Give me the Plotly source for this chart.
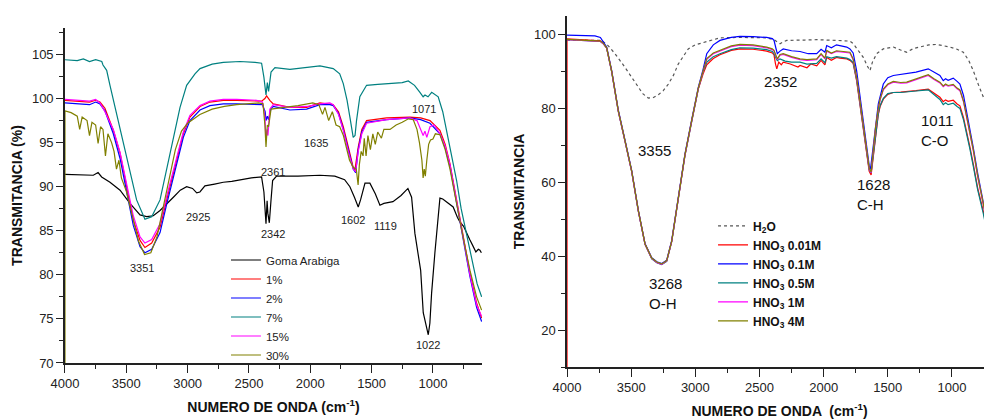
import plotly.graph_objects as go

# ---------------- LEFT PANEL DATA (wavenumber cm-1, transmittance %) ----------------
goma = [(4000, 91.4), (3850, 91.3), (3769, 91.3), (3730, 91.6), (3701, 91.1), (3633, 90.5), (3551, 89.6),
        (3470, 88.1), (3388, 86.8), (3334, 86.6), (3280, 86.7), (3225, 87.3), (3170, 88.0), (3116, 88.8),
        (3060, 89.6), (3008, 90.0), (2960, 89.8), (2926, 89.3), (2900, 89.4), (2859, 90.1), (2780, 90.3),
        (2709, 90.5), (2640, 90.6), (2573, 90.8), (2480, 91.0), (2397, 91.1), (2378, 89.4), (2361, 85.8),
        (2352, 88.4), (2346, 87.0), (2334, 85.9), (2320, 88.5), (2307, 90.7), (2275, 91.2), (2100, 91.2),
        (1921, 91.3), (1800, 91.2), (1720, 90.8), (1677, 90.0), (1640, 88.8), (1609, 87.7), (1590, 88.5),
        (1554, 90.4), (1514, 90.4), (1470, 89.2), (1432, 87.9), (1400, 88.1), (1326, 88.3), (1260, 89.0),
        (1204, 89.8), (1174, 88.8), (1147, 84.7), (1120, 82.4), (1100, 80.5), (1079, 75.7), (1050, 74.0),
        (1038, 73.2), (1025, 74.5), (1011, 77.9), (984, 82.5), (960, 86.0), (943, 88.7), (920, 88.6),
        (889, 88.3), (835, 87.7), (800, 86.5), (780, 86.0), (750, 85.5), (726, 84.7), (700, 84.0),
        (671, 83.2), (650, 82.6), (630, 82.9), (617, 82.8), (605, 82.5)]

p1 = [(4000, 99.8), (3900, 99.7), (3800, 99.6), (3750, 99.8), (3715, 99.6), (3674, 98.9), (3606, 96.4),
      (3551, 93.8), (3497, 90.0), (3443, 86.2), (3388, 83.9), (3348, 83.1), (3293, 83.6), (3225, 85.4),
      (3171, 88.5), (3103, 92.2), (3035, 96.0), (2981, 97.9), (2899, 99.1), (2818, 99.6), (2709, 99.8),
      (2600, 99.8), (2437, 99.7), (2397, 99.7), (2370, 100.0), (2356, 100.3), (2330, 99.8), (2302, 99.4),
      (2166, 99.0), (2030, 99.0), (1921, 99.5), (1840, 99.4), (1813, 99.3), (1770, 98.5), (1731, 96.8),
      (1690, 94.5), (1650, 92.2), (1636, 91.9), (1609, 94.5), (1580, 96.5), (1541, 97.5), (1378, 97.8),
      (1188, 97.9), (1100, 97.8), (1024, 97.5), (943, 96.4), (900, 94.8), (861, 92.6), (820, 89.5),
      (780, 86.2), (740, 83.2), (698, 80.2), (644, 76.8), (603, 75.1)]

p2 = [(4000, 99.5), (3900, 99.4), (3800, 99.3), (3750, 99.6), (3715, 99.4), (3674, 98.6), (3606, 96.0),
      (3551, 93.2), (3497, 89.4), (3443, 85.6), (3388, 83.2), (3348, 82.5), (3293, 82.9), (3225, 84.8),
      (3171, 88.0), (3103, 91.7), (3035, 95.6), (2981, 97.5), (2899, 98.7), (2818, 99.2), (2709, 99.4),
      (2600, 99.4), (2437, 99.3), (2390, 99.3), (2368, 98.5), (2361, 97.5), (2350, 98.0), (2340, 97.6),
      (2320, 98.9), (2302, 99.1), (2166, 98.7), (2030, 98.8), (1921, 99.3), (1840, 99.3), (1813, 99.2),
      (1770, 98.3), (1731, 96.5), (1690, 94.2), (1650, 92.0), (1630, 91.6), (1609, 94.2), (1580, 96.2),
      (1541, 97.3), (1378, 97.6), (1188, 97.8), (1100, 97.6), (1024, 97.2), (943, 96.0), (900, 94.4),
      (861, 92.3), (820, 89.2), (780, 85.9), (740, 82.8), (698, 79.8), (644, 76.3), (603, 74.7)]

p7 = [(4000, 104.4), (3900, 104.3), (3850, 104.5), (3800, 104.2), (3750, 104.4), (3700, 104.2), (3690, 103.8),
      (3660, 103.2), (3633, 101.5), (3579, 98.3), (3524, 94.9), (3470, 91.5), (3416, 88.5), (3348, 86.3),
      (3293, 86.6), (3225, 88.5), (3171, 91.9), (3116, 95.6), (3062, 99.0), (3008, 101.5), (2940, 102.8),
      (2899, 103.4), (2800, 103.9), (2709, 104.1), (2573, 104.2), (2450, 104.1), (2397, 104.0), (2378, 102.4),
      (2361, 100.4), (2350, 101.8), (2340, 100.8), (2320, 103.0), (2288, 103.5), (2166, 103.3), (2030, 103.5),
      (1921, 103.7), (1813, 103.4), (1760, 102.8), (1731, 101.7), (1700, 99.8), (1677, 97.9), (1650, 95.6),
      (1635, 95.8), (1623, 97.5), (1596, 100.2), (1541, 101.5), (1450, 101.6), (1378, 101.7), (1250, 101.8),
      (1201, 102.0), (1150, 101.5), (1106, 100.7), (1080, 100.2), (1065, 100.4), (1040, 100.2), (1010, 100.7),
      (997, 100.6), (957, 100.2), (920, 98.5), (889, 96.4), (850, 93.5), (807, 90.7), (770, 87.5),
      (726, 84.7), (700, 83.0), (671, 81.3), (640, 79.0), (603, 77.5)]

p15 = [(4000, 99.9), (3900, 99.8), (3800, 99.7), (3750, 99.9), (3715, 99.5), (3674, 98.5), (3606, 96.5),
       (3551, 93.9), (3497, 90.3), (3443, 86.7), (3388, 84.3), (3348, 83.6), (3293, 84.0), (3225, 85.8),
       (3171, 88.9), (3103, 92.5), (3035, 96.2), (2981, 98.1), (2899, 99.2), (2818, 99.7), (2709, 99.9),
       (2600, 99.9), (2437, 99.8), (2390, 99.6), (2370, 98.0), (2361, 95.3), (2352, 96.5), (2345, 95.8),
       (2330, 98.8), (2302, 99.3), (2166, 99.0), (2030, 99.1), (1921, 99.4), (1840, 99.5), (1813, 99.3),
       (1770, 98.2), (1731, 96.4), (1690, 94.0), (1650, 92.0), (1630, 91.7), (1609, 94.0), (1580, 96.0),
       (1541, 97.2), (1378, 97.6), (1188, 97.8), (1130, 97.5), (1100, 96.4), (1080, 95.8), (1065, 96.3),
       (1050, 95.6), (1024, 96.8), (990, 97.0), (943, 96.0), (900, 94.6), (861, 92.5), (820, 89.3),
       (780, 86.0), (740, 82.9), (698, 80.0), (644, 76.6), (603, 75.3)]

p30 = [(4000, 68.0), (4000, 98.6), (3950, 98.4), (3900, 98.0), (3880, 96.5), (3860, 97.9), (3820, 97.5),
       (3800, 95.8), (3780, 97.3), (3750, 97.0), (3730, 94.9), (3710, 96.8), (3690, 96.5), (3670, 93.5),
       (3650, 96.0), (3620, 95.0), (3600, 94.0), (3580, 92.0), (3560, 93.0), (3540, 91.0), (3500, 89.5),
       (3450, 86.5), (3400, 83.8), (3351, 82.3), (3300, 82.5), (3250, 84.3), (3200, 87.6), (3150, 91.2),
       (3100, 94.2), (3050, 96.3), (3000, 97.2), (2900, 98.2), (2800, 98.8), (2700, 99.1), (2600, 99.3),
       (2420, 99.5), (2385, 99.4), (2370, 97.0), (2361, 94.5), (2350, 97.0), (2340, 96.8), (2320, 98.8),
       (2200, 99.0), (2100, 99.2), (1980, 99.5), (1930, 99.3), (1900, 98.2), (1880, 99.0), (1850, 97.5),
       (1820, 98.5), (1790, 97.0), (1760, 96.8), (1730, 95.8), (1700, 94.2), (1680, 93.0), (1650, 92.2),
       (1625, 92.0), (1610, 90.2), (1600, 92.5), (1585, 94.0), (1570, 93.5), (1560, 95.5), (1545, 93.5),
       (1530, 95.8), (1510, 94.2), (1490, 96.0), (1470, 94.8), (1450, 96.2), (1420, 95.5), (1400, 96.5),
       (1350, 96.5), (1300, 97.0), (1250, 97.3), (1200, 97.7), (1160, 97.6), (1130, 96.5), (1110, 95.0),
       (1090, 93.0), (1080, 91.0), (1071, 92.0), (1062, 91.2), (1050, 93.0), (1035, 94.8), (1020, 95.3),
       (1000, 95.4), (980, 96.0), (943, 95.9), (900, 94.2), (861, 92.0), (820, 89.0), (780, 86.0),
       (740, 83.3), (698, 80.5), (644, 77.5), (603, 76.0)]

left_names = ["Goma Arabiga", "1%", "2%", "7%", "15%", "30%"]
left_series = [goma, p1, p2, p7, p15, p30]
left_colors = ["#000000", "#FF0000", "#0000FF", "#008080", "#FF00FF", "#808000"]

# ---------------- RIGHT PANEL DATA ----------------
h2o = [(4000, 98.5), (3900, 98.4), (3800, 98.4), (3730, 98.4), (3680, 97.0), (3626, 94.8), (3548, 91.1),
       (3470, 87.0), (3410, 84.0), (3366, 82.8), (3330, 82.9), (3288, 83.7), (3250, 84.8), (3210, 86.6),
       (3170, 89.0), (3133, 92.0), (3090, 94.3), (3055, 96.1), (3000, 97.2), (2925, 97.9), (2808, 99.1),
       (2650, 99.2), (2444, 99.1), (2387, 98.6), (2360, 98.0), (2340, 97.5), (2315, 98.0), (2288, 98.4),
       (2150, 98.5), (2054, 98.6), (1900, 98.4), (1795, 98.2), (1769, 97.5), (1730, 95.8), (1691, 93.8),
       (1660, 91.5), (1639, 90.2), (1620, 92.5), (1587, 94.8), (1535, 96.1), (1457, 96.6), (1400, 95.8),
       (1353, 95.2), (1300, 96.2), (1249, 96.6), (1180, 97.2), (1120, 97.3), (1060, 97.0), (1016, 96.6),
       (960, 96.0), (912, 95.2), (870, 93.0), (834, 90.2), (795, 86.5), (756, 83.0), (720, 80.0), (688, 77.5)]

m001 = [(4000, 5.0), (4000, 98.8), (3900, 98.6), (3782, 98.5), (3740, 98.3), (3717, 97.6), (3691, 96.4),
        (3652, 90.0), (3600, 79.2), (3548, 71.2), (3496, 63.0), (3444, 52.2), (3392, 43.3), (3340, 39.4),
        (3300, 38.3), (3262, 37.8), (3223, 38.7), (3184, 44.0), (3133, 55.7), (3081, 67.3), (3029, 76.4),
        (2977, 85.2), (2940, 89.3), (2911, 91.8), (2860, 93.5), (2808, 94.5), (2720, 95.7), (2652, 96.1),
        (2550, 96.0), (2444, 95.5), (2400, 95.0), (2387, 94.5), (2375, 92.0), (2365, 90.7), (2350, 92.5),
        (2330, 91.8), (2315, 92.5), (2260, 92.0), (2200, 91.2), (2184, 91.6), (2130, 91.0), (2100, 92.0),
        (2054, 91.5), (2020, 93.0), (1990, 91.8), (1976, 93.8), (1940, 93.0), (1900, 93.8), (1873, 93.6),
        (1820, 93.4), (1795, 93.0), (1770, 92.2), (1743, 87.5), (1715, 80.5), (1691, 74.5), (1665, 68.0),
        (1645, 63.0), (1630, 62.0), (1613, 67.5), (1595, 73.5), (1574, 78.4), (1560, 80.5), (1535, 82.5),
        (1500, 83.8), (1457, 84.3), (1400, 84.4), (1353, 84.5), (1280, 84.8), (1185, 85.2), (1140, 84.0),
        (1094, 83.0), (1068, 81.8), (1050, 82.3), (1030, 81.9), (990, 82.2), (960, 81.2), (938, 80.7),
        (910, 77.5), (886, 73.9), (860, 69.5), (834, 64.9), (800, 58.5), (756, 52.2), (720, 46.0), (688, 40.4)]

m01 = [(4000, 99.8), (3900, 99.7), (3782, 99.6), (3740, 99.2), (3717, 97.9), (3691, 96.6), (3652, 90.3),
       (3600, 79.5), (3548, 71.4), (3496, 63.2), (3444, 52.4), (3392, 43.4), (3340, 39.6), (3300, 38.5),
       (3262, 38.0), (3223, 38.9), (3184, 44.3), (3133, 56.0), (3081, 67.6), (3029, 76.8), (2977, 85.7),
       (2940, 90.5), (2911, 94.8), (2860, 97.2), (2808, 98.4), (2720, 99.2), (2652, 99.5), (2550, 99.4),
       (2444, 99.2), (2400, 98.9), (2387, 98.4), (2370, 96.0), (2361, 94.8), (2340, 95.5), (2315, 96.1),
       (2250, 95.6), (2184, 95.4), (2120, 94.8), (2054, 94.8), (2020, 96.0), (1990, 95.2), (1976, 97.0),
       (1940, 96.4), (1900, 97.2), (1873, 97.0), (1820, 96.6), (1795, 96.1), (1770, 95.0), (1743, 90.2),
       (1715, 83.0), (1691, 76.6), (1665, 70.0), (1645, 64.5), (1635, 63.5), (1613, 69.4), (1595, 75.0),
       (1574, 81.2), (1535, 86.6), (1500, 88.3), (1457, 88.9), (1400, 89.2), (1353, 89.3), (1280, 89.8),
       (1185, 90.7), (1140, 89.8), (1094, 88.9), (1068, 87.5), (1050, 88.0), (1030, 87.6), (990, 88.2),
       (960, 87.3), (938, 86.6), (910, 83.5), (886, 79.3), (860, 74.5), (834, 69.4), (800, 62.5),
       (756, 54.9), (720, 48.5), (688, 42.2)]

m05 = [(4000, 98.6), (3900, 98.4), (3782, 98.3), (3740, 98.1), (3717, 97.5), (3691, 96.3), (3652, 89.9),
       (3600, 79.1), (3548, 71.1), (3496, 62.9), (3444, 52.1), (3392, 43.2), (3340, 39.3), (3300, 38.2),
       (3262, 37.7), (3223, 38.6), (3184, 43.9), (3133, 55.6), (3081, 67.2), (3029, 76.3), (2977, 85.3),
       (2940, 89.8), (2911, 92.5), (2860, 94.0), (2808, 94.8), (2720, 95.9), (2652, 96.4), (2550, 96.3),
       (2444, 95.9), (2400, 95.4), (2387, 94.8), (2370, 93.5), (2361, 92.9), (2340, 93.4), (2300, 92.8),
       (2250, 92.5), (2184, 92.5), (2130, 92.0), (2054, 92.2), (2020, 93.4), (1990, 92.4), (1976, 94.0),
       (1940, 93.6), (1900, 94.0), (1873, 93.9), (1820, 93.6), (1795, 93.2), (1770, 92.4), (1743, 87.8),
       (1715, 80.8), (1691, 74.8), (1665, 68.3), (1645, 63.4), (1630, 62.5), (1613, 67.8), (1595, 73.8),
       (1574, 78.6), (1560, 80.8), (1535, 82.7), (1500, 84.0), (1457, 84.3), (1400, 84.3), (1353, 84.4),
       (1280, 84.7), (1185, 85.0), (1140, 83.6), (1094, 82.4), (1068, 81.0), (1050, 81.5), (1030, 81.0),
       (990, 81.4), (960, 80.5), (938, 80.0), (910, 76.9), (886, 73.4), (860, 69.0), (834, 64.4),
       (800, 58.0), (756, 51.6), (720, 45.2), (688, 39.6)]

m1 = [(4000, 98.6), (3900, 98.4), (3782, 98.3), (3740, 98.1), (3717, 97.5), (3691, 96.3), (3652, 90.0),
      (3600, 79.2), (3548, 71.1), (3496, 62.9), (3444, 52.2), (3392, 43.2), (3340, 39.4), (3300, 38.3),
      (3262, 37.8), (3223, 38.7), (3184, 44.0), (3133, 55.7), (3081, 67.3), (3029, 76.5), (2977, 85.4),
      (2940, 89.9), (2911, 93.3), (2860, 94.8), (2808, 95.5), (2720, 96.7), (2652, 97.1), (2550, 97.0),
      (2444, 96.4), (2400, 95.9), (2387, 95.5), (2370, 94.0), (2361, 93.2), (2340, 94.4), (2315, 94.6),
      (2250, 93.8), (2184, 93.2), (2130, 93.0), (2054, 93.2), (2020, 94.6), (1990, 93.4), (1976, 95.5),
      (1940, 94.8), (1900, 95.4), (1873, 95.3), (1820, 95.2), (1795, 95.0), (1770, 93.2), (1743, 88.2),
      (1715, 81.3), (1691, 75.3), (1665, 68.8), (1645, 63.6), (1630, 62.6), (1613, 68.3), (1595, 74.8),
      (1574, 79.8), (1560, 82.3), (1535, 85.0), (1500, 86.4), (1457, 87.1), (1400, 86.8), (1353, 86.9),
      (1280, 87.8), (1185, 88.9), (1140, 87.8), (1094, 86.9), (1068, 85.9), (1050, 86.4), (1030, 86.0),
      (990, 86.3), (960, 85.3), (938, 84.8), (910, 81.8), (886, 77.8), (860, 73.3), (834, 68.6),
      (800, 61.6), (756, 54.2), (720, 47.8), (688, 41.6)]

m4 = [(4000, 98.7), (3900, 98.5), (3782, 98.4), (3740, 98.2), (3717, 97.6), (3691, 96.4), (3652, 90.1),
      (3600, 79.3), (3548, 71.2), (3496, 63.0), (3444, 52.3), (3392, 43.3), (3340, 39.5), (3300, 38.4),
      (3262, 37.9), (3223, 38.8), (3184, 44.1), (3133, 55.8), (3081, 67.4), (3029, 76.6), (2977, 85.5),
      (2940, 90.0), (2911, 93.5), (2860, 95.0), (2808, 95.7), (2720, 96.9), (2652, 97.3), (2550, 97.2),
      (2444, 96.6), (2400, 96.1), (2387, 95.7), (2370, 94.2), (2361, 93.4), (2340, 94.6), (2315, 94.8),
      (2250, 94.0), (2184, 93.4), (2130, 93.2), (2054, 93.4), (2020, 94.8), (1990, 93.6), (1976, 95.7),
      (1940, 95.0), (1900, 95.6), (1873, 95.5), (1820, 95.4), (1795, 95.2), (1770, 93.4), (1743, 88.4),
      (1715, 81.5), (1691, 75.5), (1665, 69.0), (1645, 63.8), (1630, 62.8), (1613, 68.5), (1595, 75.0),
      (1574, 80.0), (1560, 82.5), (1535, 85.2), (1500, 86.6), (1457, 87.3), (1400, 87.0), (1353, 87.1),
      (1280, 88.0), (1185, 89.1), (1140, 88.0), (1094, 87.1), (1068, 86.1), (1050, 86.6), (1030, 86.2),
      (990, 86.5), (960, 85.5), (938, 85.0), (910, 82.0), (886, 78.0), (860, 73.5), (834, 68.8),
      (800, 61.8), (756, 54.4), (720, 48.0), (688, 41.8)]

right_names = ["<b>H<sub>2</sub>O</b>", "<b>HNO<sub>3</sub> 0.01M</b>", "<b>HNO<sub>3</sub> 0.1M</b>",
               "<b>HNO<sub>3</sub> 0.5M</b>", "<b>HNO<sub>3</sub> 1M</b>", "<b>HNO<sub>3</sub> 4M</b>"]
right_series = [h2o, m001, m01, m05, m1, m4]
right_colors = ["#555555", "#FF0000", "#0000FF", "#008080", "#FF00FF", "#808000"]
right_dash = ["dot", "solid", "solid", "solid", "solid", "solid"]

# peak labels
left_labels = [("3351", 3372, 80.8), ("2925", 2915, 86.6), ("2342", 2304, 84.6), ("2361", 2304, 91.7),
               ("1635", 1954, 94.9), ("1071", 1073, 98.8), ("1602", 1650, 86.2), ("1119", 1389, 85.5),
               ("1022", 1038, 72.0), ("667", 569, 80.1)]
right_labels = [("2352", 2333, 87.2), ("3355", 3320, 68.7), ("3268<br>O-H", 3231, 30.0),
                ("1628<br>C-H", 1613, 56.8), ("1011<br>C-O", 1120, 73.9)]

FONT = "Liberation Sans, Arial, sans-serif"
fig = go.Figure()

for name, s, c in zip(left_names, left_series, left_colors):
    fig.add_trace(go.Scatter(x=[p[0] for p in s], y=[p[1] for p in s], mode="lines", name=name,
                             line=dict(color=c, width=1.2), xaxis="x", yaxis="y", legend="legend"))

for name, s, c, d in zip(right_names, right_series, right_colors, right_dash):
    fig.add_trace(go.Scatter(x=[p[0] for p in s], y=[p[1] for p in s], mode="lines", name=name,
                             line=dict(color=c, width=1.2, dash=d), xaxis="x2", yaxis="y2", legend="legend2"))

ann = []
for t, x, y in left_labels:
    ann.append(dict(text=t, x=x, y=y, xref="x", yref="y", showarrow=False,
                    font=dict(family=FONT, size=11, color="#222")))
for t, x, y in right_labels:
    ann.append(dict(text=t, x=x, y=y, xref="x2", yref="y2", showarrow=False, align="left",
                    font=dict(family=FONT, size=15, color="#111")))

axis_common = dict(showgrid=False, zeroline=False, showline=True, linecolor="#222", linewidth=1.5,
                   ticks="outside", tickwidth=1.3, tickcolor="#222", automargin=False,
                   tickfont=dict(family=FONT, size=13, color="#222"))
xminor = dict(ticks="outside", ticklen=4, tickcolor="#222", tickwidth=1.2)

fig.update_layout(
    width=984, height=411, margin=dict(l=0, r=0, t=0, b=0),
    paper_bgcolor="white", plot_bgcolor="white",
    annotations=ann,
    xaxis=dict(domain=[0.0579, 0.4817], range=[4000, 600], anchor="y", dtick=500, tick0=0, ticklen=8,
               minor=dict(dtick=250, tick0=0, **xminor),
               title=dict(text="<b>NUMERO DE ONDA (cm<sup>-1</sup>)</b>", font=dict(family=FONT, size=14, color="#111"),
                          standoff=12),
               **axis_common),
    yaxis=dict(domain=[0.1363, 0.9513], range=[70, 108], anchor="x", dtick=5, tick0=0, ticklen=7,
               minor=dict(dtick=2.5, tick0=0, **xminor),
               title=dict(text="<b>TRANSMITANCIA (%)</b>", font=dict(family=FONT, size=14, color="#111"),
                          standoff=6),
               **axis_common),
    xaxis2=dict(domain=[0.5681, 1.0], range=[4000, 688], anchor="y2", dtick=500, tick0=0, ticklen=8,
                minor=dict(dtick=250, tick0=0, **xminor),
                title=dict(text="<b>NUMERO DE ONDA  (cm<sup>-1</sup>)</b>", font=dict(family=FONT, size=14, color="#111"),
                           standoff=12),
                **axis_common),
    yaxis2=dict(domain=[0.1265, 0.9805], range=[10, 105], anchor="x2", dtick=20, tick0=0, ticklen=7,
                minor=dict(dtick=10, tick0=0, **xminor),
                title=dict(text="<b>TRANSMITANCIA</b>", font=dict(family=FONT, size=14, color="#111"),
                           standoff=6),
                **axis_common),
    legend=dict(x=0.2215, y=0.4221, xanchor="left", yanchor="top", bgcolor="rgba(0,0,0,0)",
                font=dict(family=FONT, size=11.5, color="#222"), tracegroupgap=0, itemwidth=30),
    legend2=dict(x=0.7165, y=0.5051, xanchor="left", yanchor="top", bgcolor="rgba(0,0,0,0)",
                 font=dict(family=FONT, size=12, color="#111"), tracegroupgap=0, itemwidth=30),
)

fig.write_html("out.html")
